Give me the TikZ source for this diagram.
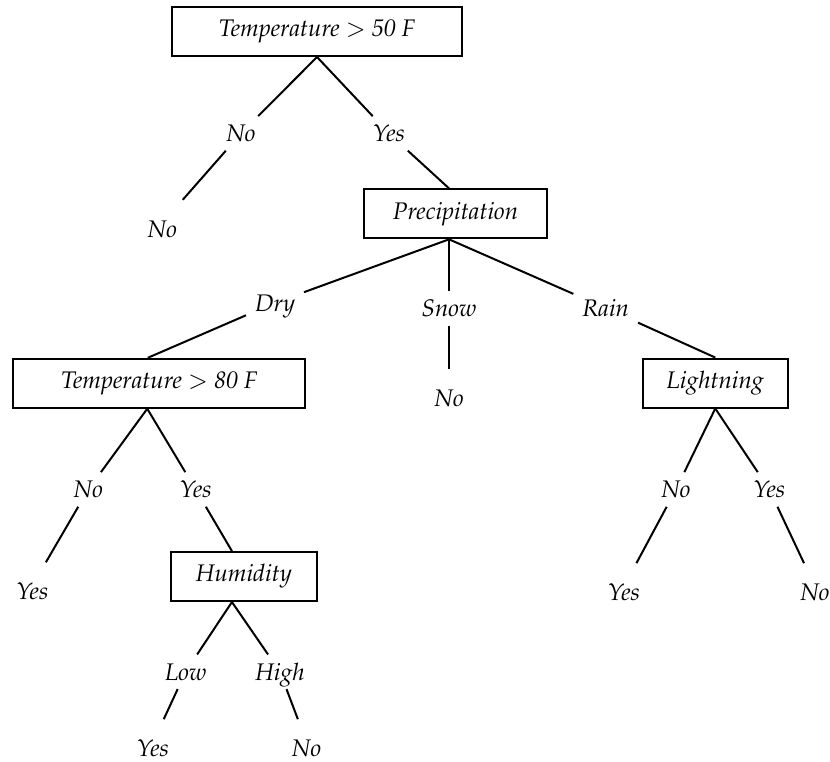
\documentclass[tikz,border=0pt]{standalone}
\usepackage[T1]{fontenc}
\usepackage{mathpazo}
\usepackage{amsmath}

\begin{document}
\begin{tikzpicture}[node distance=1.8cm, line width=1pt, font=\large\itshape]

\tikzstyle{bx} = [rectangle, minimum height=0.86cm, text centered, draw=black]
\tikzstyle{lb} = [text height=8.3pt, text depth=0pt, inner sep=4pt]
\tikzstyle{lf} = [text height=14.3pt, text depth=0pt, inner sep=4pt]
\useasboundingbox (-5.571,0.554) rectangle (9.015,-12.820);

% root and first split
\node (t50) [bx, minimum width=5.1cm] {Temperature $>$ 50 F};
\node (n1) [lb, below of=t50, xshift=-1.336cm, yshift=0.009cm] {No};
\node (y1) [lb, below of=t50, xshift=1.265cm, yshift=0.009cm] {Yes};
\node (n1no) [lf, below of=n1, xshift=-1.383cm, yshift=0.225cm] {No};
\node (precip) [bx, minimum width=3.205cm, below of=y1, xshift=1.169cm, yshift=0.387cm] {Precipitation};

% precipitation
\node (dry) [lb, below of=precip, xshift=-3.172cm, yshift=0.238cm] {Dry};
\node (snow) [lb, below of=precip, xshift=-0.114cm, yshift=0.138cm] {Snow};
\node (rain) [lb, below of=precip, xshift=2.639cm, yshift=0.145cm] {Rain};
\node (snowno) [lf, below of=snow, yshift=0.323cm] {No};
\node (t80) [bx, minimum width=5.126cm, below of=dry, xshift=-2.035cm, yshift=0.385cm] {Temperature $>$ 80 F};
\node (light) [bx, minimum width=2.553cm, below of=rain, xshift=1.926cm, yshift=0.482cm] {Lightning};

% temperature > 80 F
\node (t80n) [lb, below of=t80, xshift=-1.246cm, yshift=-0.066cm] {No};
\node (t80y) [lb, below of=t80, xshift=0.641cm, yshift=-0.066cm] {Yes};
\node (t80nyes) [lf, below of=t80n, xshift=-0.984cm, yshift=0.111cm] {Yes};
\node (humid) [bx, minimum width=2.56cm, below of=t80y, xshift=0.847cm, yshift=0.269cm] {Humidity};
\node (low) [lb, below of=humid, xshift=-1.023cm, yshift=0.127cm] {Low};
\node (high) [lb, below of=humid, xshift=0.634cm, yshift=0.127cm] {High};
\node (lowyes) [lf, below of=low, xshift=-0.575cm, yshift=0.557cm] {Yes};
\node (highno) [lf, below of=high, xshift=0.469cm, yshift=0.557cm] {No};

% lightning
\node (ln) [lb, below of=light, xshift=-0.691cm, yshift=-0.07cm] {No};
\node (ly) [lb, below of=light, xshift=0.949cm, yshift=-0.07cm] {Yes};
\node (lnyes) [lf, below of=ln, xshift=-0.914cm, yshift=0.095cm] {Yes};
\node (lyno) [lf, below of=ly, xshift=0.803cm, yshift=0.095cm] {No};

\draw (t50.south)--(n1);
\draw (t50.south)--(y1);
\draw (n1)--(n1no);
\draw (y1)--([xshift=-0.114cm]precip.north);
\draw ([xshift=-0.114cm]precip.south)--(dry);
\draw ([xshift=-0.114cm]precip.south)--(snow);
\draw ([xshift=-0.114cm]precip.south)--(rain);
\draw (snow)--(snowno);
\draw (dry)--([xshift=-0.2cm]t80.north);
\draw (rain)--(light.north);
\draw ([xshift=-0.21cm]t80.south)--(t80n);
\draw ([xshift=-0.21cm]t80.south)--(t80y);
\draw (t80n)--(t80nyes);
\draw (t80y)--([xshift=-0.21cm]humid.north);
\draw ([xshift=-0.21cm]humid.south)--(low);
\draw ([xshift=-0.21cm]humid.south)--(high);
\draw (low)--(lowyes);
\draw (high)--(highno);
\draw (light.south)--(ln);
\draw (light.south)--(ly);
\draw (ln)--(lnyes);
\draw (ly)--(lyno);
\end{tikzpicture}
\end{document}
